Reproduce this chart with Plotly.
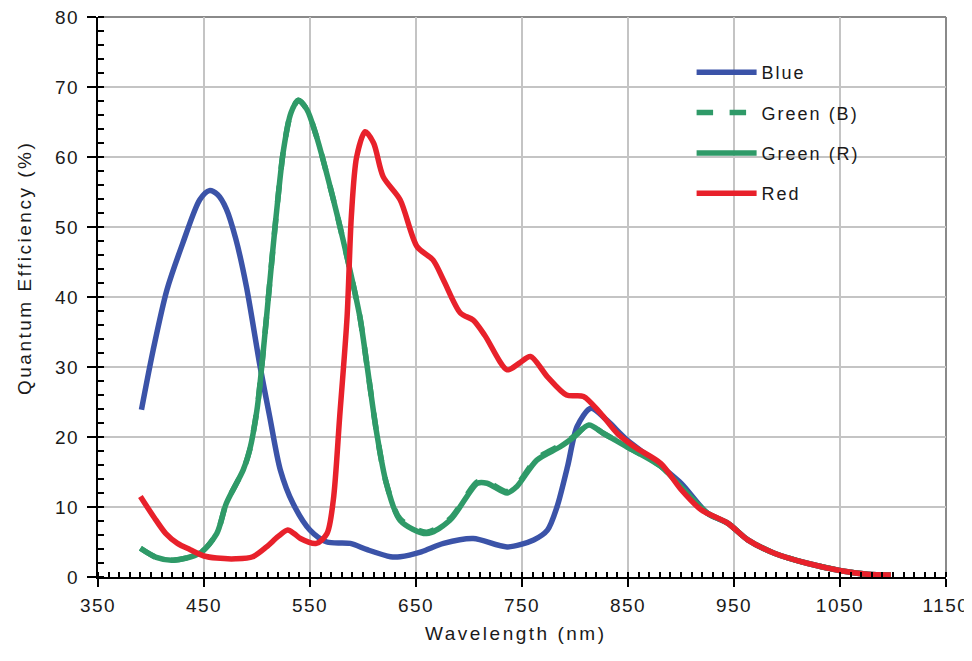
import plotly.graph_objects as go

# ---- data ----
blue_x = [391, 402, 415, 430, 446, 455, 463, 471, 480, 490, 503, 512, 522, 534, 550, 566, 588, 604, 626, 635, 655, 676, 704, 736, 761, 774, 783, 793, 802, 815, 830, 849, 874, 900, 925, 944, 963, 988, 1019, 1051, 1076, 1098]
blue_y = [23.9, 32.4, 41.0, 47.7, 53.9, 55.2, 54.6, 52.6, 48.3, 41.5, 30.0, 22.9, 15.3, 10.5, 6.7, 5.0, 4.8, 3.9, 2.9, 2.9, 3.6, 4.8, 5.5, 4.3, 5.3, 6.7, 10.0, 15.8, 21.5, 24.1, 22.4, 19.6, 16.7, 13.4, 9.1, 7.7, 5.3, 3.4, 1.96, 0.9, 0.4, 0.3]

greenR_x = [390, 405, 421, 446, 462, 471, 487, 493, 500, 506, 512, 518, 525, 532, 539, 547, 556, 566, 576, 586, 597, 604, 613, 622, 635, 660, 682, 708, 717, 736, 745, 764, 786, 799, 813, 827, 849, 881, 903, 925, 944, 963, 988, 1019, 1051, 1076, 1098]
greenR_y = [4.1, 2.8, 2.4, 3.4, 6.2, 10.5, 15.3, 18.1, 23.9, 32.4, 42.0, 51.5, 61.0, 66.3, 68.1, 66.8, 63.0, 57.5, 51.5, 45.0, 37.2, 30.0, 20.5, 13.4, 8.1, 6.2, 8.1, 13.4, 13.4, 12.0, 12.9, 16.7, 18.6, 20.0, 21.7, 20.5, 18.6, 15.8, 12.4, 9.1, 7.7, 5.3, 3.4, 1.96, 0.9, 0.4, 0.3]

greenB_x = [390, 405, 421, 446, 462, 471, 487, 493, 500, 506, 512, 518, 525, 532, 539, 547, 556, 566, 576, 586, 597, 604, 613, 622, 635, 660, 682, 708, 717, 736, 745, 764, 786, 799, 813, 827, 849, 881, 903, 925, 944, 963, 988, 1019, 1051, 1076, 1098]
greenB_y = [4.1, 2.8, 2.4, 3.4, 6.2, 10.5, 15.3, 18.1, 23.9, 32.4, 42.0, 51.5, 61.0, 66.3, 68.1, 66.8, 63.0, 57.5, 51.5, 45.0, 37.2, 30.0, 20.5, 13.4, 8.3, 6.4, 8.3, 13.6, 13.6, 12.2, 13.1, 16.9, 18.8, 20.1, 21.7, 20.5, 18.6, 15.8, 12.4, 9.1, 7.7, 5.3, 3.4, 1.96, 0.9, 0.4, 0.3]

red_x = [390, 403, 414, 425, 437, 450, 462, 480, 496, 509, 520, 529, 535, 541, 556, 566, 572, 578, 585, 589, 594, 602, 610, 619, 635, 651, 666, 676, 692, 704, 715, 736, 747, 758, 774, 792, 808, 824, 840, 856, 881, 900, 919, 944, 963, 988, 1019, 1051, 1076, 1098]
red_y = [11.5, 8.5, 6.2, 4.8, 3.9, 3.0, 2.7, 2.6, 2.9, 4.3, 5.8, 6.7, 6.2, 5.5, 4.8, 6.2, 11.0, 22.9, 37.2, 51.5, 60.0, 63.6, 62.0, 57.2, 53.9, 47.2, 45.3, 42.4, 37.7, 36.7, 34.5, 29.6, 30.5, 31.5, 28.6, 26.0, 25.8, 23.4, 20.5, 18.6, 16.2, 12.5, 9.6, 7.7, 5.3, 3.4, 1.96, 0.9, 0.4, 0.3]

x_ticks = [350, 450, 550, 650, 750, 850, 950, 1050, 1150]
y_ticks = [0, 10, 20, 30, 40, 50, 60, 70, 80]
x_title = "Wavelength (nm)"
y_title = "Quantum Efficiency (%)"

BLUE = "#3b53a8"
GREEN = "#2f9a68"
RED = "#e8212b"
FONT = "Liberation Sans, Arial, sans-serif"
TXT = "#1a1a1a"

def spaced(t, sp=1.5):
    return f'<span style="letter-spacing:{sp}px">{t}</span>'

fig = go.Figure()
series = [
    ("Blue", blue_x, blue_y, BLUE, "solid"),
    ("Green (B)", greenB_x, greenB_y, GREEN, "dash"),
    ("Green (R)", greenR_x, greenR_y, GREEN, "solid"),
    ("Red", red_x, red_y, RED, "solid"),
]
for name, xs, ys, col, dash in series:
    fig.add_trace(go.Scatter(
        x=xs, y=ys, name=spaced(name, 2), mode="lines", legendgroup=name,
        line=dict(color=col, width=5.5, dash=dash, shape="spline", smoothing=0.8),
    ))

# the page body adds an 8px margin, so the figure is 8px smaller than the window
fig.update_layout(
    width=964, height=653,
    margin=dict(l=90, r=26, t=9, b=84, autoexpand=False),
    paper_bgcolor="white", plot_bgcolor="white",
    font=dict(family=FONT, color=TXT, size=18),
    showlegend=True,
    legend=dict(
        x=0.70, y=0.934, xanchor="left", yanchor="top",
        bgcolor="rgba(0,0,0,0)", font=dict(size=18, family=FONT, color=TXT),
        tracegroupgap=14, itemwidth=60, traceorder="grouped",
    ),
)

fig.update_xaxes(
    range=[350, 1150], tickvals=x_ticks, ticktext=[spaced(str(v)) for v in x_ticks],
    showgrid=True, gridcolor="#c4c4c4", gridwidth=2,
    showline=True, linecolor="black", linewidth=2,
    ticks="outside", ticklen=8, tickwidth=2, tickcolor="black",
    tickfont=dict(size=19, family=FONT, color=TXT), ticklabelstandoff=2,
    ticklabeloverflow="allow",
    minor=dict(dtick=10, ticks="inside", ticklen=5, tickwidth=2, tickcolor="black", showgrid=False),
    zeroline=False, automargin=False,
)
fig.update_yaxes(
    range=[0, 80], tickvals=y_ticks, ticktext=[spaced(str(v)) for v in y_ticks],
    showgrid=True, gridcolor="#c4c4c4", gridwidth=2,
    showline=True, linecolor="black", linewidth=2,
    ticks="outside", ticklen=9, tickwidth=2, tickcolor="black",
    tickfont=dict(size=19, family=FONT, color=TXT), ticklabelstandoff=4,
    ticklabeloverflow="allow",
    minor=dict(dtick=2, ticks="inside", ticklen=6, tickwidth=2, tickcolor="black", showgrid=False),
    zeroline=False, automargin=False,
)

# axis titles
fig.add_annotation(text=spaced(x_title, 2.5), xref="paper", yref="paper",
                   x=(515 - 98) / 848, y=-(633 - 577) / 560, xanchor="center", yanchor="middle",
                   showarrow=False, font=dict(size=19, family=FONT, color=TXT))
fig.add_annotation(text=spaced(y_title, 2.5), xref="paper", yref="paper", textangle=-90,
                   x=-(98 - 24) / 848, y=(577 - 268) / 560, xanchor="center", yanchor="middle",
                   showarrow=False, font=dict(size=19, family=FONT, color=TXT))

# grey frame on top and right
fig.add_shape(type="line", xref="paper", yref="paper", x0=0, x1=1, y0=1, y1=1,
              line=dict(color="#8a8a8a", width=2), layer="below")
fig.add_shape(type="line", xref="paper", yref="paper", x0=1, x1=1, y0=0, y1=1,
              line=dict(color="#8a8a8a", width=2), layer="below")

fig.write_html("out.html")
